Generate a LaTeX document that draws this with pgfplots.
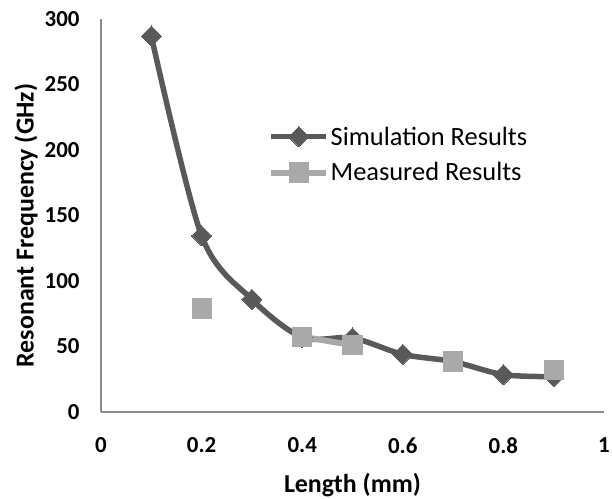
\documentclass[border=0pt]{standalone}
\usepackage{fontspec}
\setmainfont{Carlito}
\usepackage{pgfplots}
\pgfplotsset{compat=1.18}

\definecolor{simcol}{HTML}{595959}
\definecolor{meascol}{HTML}{A9A9A9}
\definecolor{axiscol}{HTML}{8C8C8C}

\pgfplotsset{
  longlegend/.style={
    legend image code/.code={
      \draw[mark repeat=2, mark phase=2, ##1] plot coordinates {(0bp,0bp) (27.5bp,0bp) (55bp,0bp)};
    },
  },
}

\begin{document}
\begin{tikzpicture}
\begin{axis}[
  name=ax,
  scale only axis,
  width=503bp, height=393bp,
  xmin=0, xmax=1, ymin=0, ymax=300,
  xtick={0,0.2,0.4,0.6,0.8,1},
  ytick={0,50,100,150,200,250,300},
  axis x line=bottom, axis y line=left,
  axis line style={-, draw=axiscol, line width=1.3bp},
  major tick length=0pt,
  /pgf/number format/assume math mode=true,
  tick label style={font=\fontsize{23}{23}\selectfont\bfseries},
  xticklabel style={yshift=-22bp},
  yticklabel style={xshift=-18bp},
  xlabel={Length (mm)},
  ylabel={Resonant Frequency (GHz)},
  label style={font=\fontsize{26}{26}\selectfont\bfseries},
  xlabel style={yshift=-13bp},
  ylabel style={xshift=-10bp, yshift=0bp},
  unbounded coords=jump,
  clip=false,
  legend style={
    at={(rel axis cs:0.332,0.73)}, anchor=north west,
    draw=none, fill=none,
    font=\fontsize{26.5}{26.5}\selectfont,
    row sep=13bp,
    inner sep=0pt,
    nodes={inner sep=1.5bp},
    /tikz/every even column/.append style={column sep=0bp},
  },
  legend cell align=left,
]
% simulated resonant frequency, smooth curve with diamond markers
\addplot[
  color=simcol, line width=5.5bp, smooth, tension=0.5,
  mark=square*, mark size=7.1bp,
  mark options={rotate=45, fill=simcol, draw=simcol, line width=0pt},
  longlegend,
] coordinates {
  (0.1,287) (0.2,134.5) (0.3,86) (0.4,57) (0.5,56.5)
  (0.6,44) (0.7,38.5) (0.8,28.5) (0.9,27)
};
\addlegendentry{Simulation Results}

% measured resonant frequency; empty cells break the line
\addplot[
  color=meascol, line width=6bp,
  mark=square*, mark size=9.6bp,
  mark options={fill=meascol, draw=meascol, line width=0pt},
  longlegend,
] coordinates {
  (0.2,79) (0.3,nan) (0.4,57.5) (0.5,51) (0.6,nan)
  (0.7,38.5) (0.8,nan) (0.9,32)
};
\addlegendentry{Measured Results}
\end{axis}
\pgfresetboundingbox
\path[use as bounding box] ([xshift=-101bp,yshift=-87bp]ax.south west)
  rectangle ([xshift=8bp,yshift=19bp]ax.north east);
\end{tikzpicture}
\end{document}
